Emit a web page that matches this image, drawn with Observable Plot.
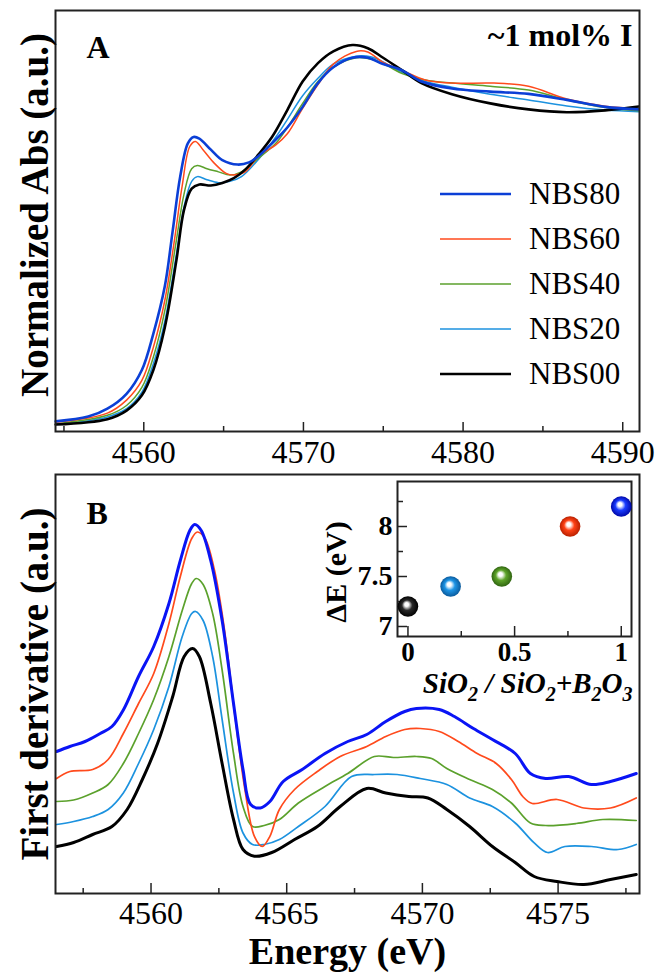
<!DOCTYPE html>
<html>
<head>
<meta charset="utf-8">
<script src="https://cdn.jsdelivr.net/npm/d3@7"></script>
<script src="https://cdn.jsdelivr.net/npm/@observablehq/plot@0.6"></script>
<style>
  html, body { margin: 0; padding: 0; background: #fff; }
  #fig { position: relative; width: 658px; height: 974px; background: #fff; font-family: "Liberation Serif", "Times New Roman", serif; overflow: hidden; }
  #fig svg { position: absolute; }
  #legend { position: absolute; left: 440px; top: 172px; }
  #legend .row { display: flex; align-items: center; height: 44.9px; }
  #legend .row span { margin-left: 18px; font-size: 31px; color: #000; }
</style>
</head>
<body>
<div id="fig"></div>
<script>
// ---------- DATA ----------
const seriesNames = ["NBS80", "NBS60", "NBS40", "NBS20", "NBS00"];

// Panel A: normalized absorbance (energy in eV, value in a.u.)
const absE_NBS80 = [4554.48, 4556.52, 4557.72, 4558.92, 4559.88, 4560.6, 4561.32, 4561.8, 4562.28, 4562.76, 4563.12, 4563.48, 4564.2, 4564.92, 4565.88, 4566.59, 4567.19, 4568.03, 4568.99, 4569.95, 4570.91, 4571.87, 4573.07, 4574.03, 4574.99, 4576.19, 4577.39, 4579.3, 4581.7, 4584.1, 4586.5, 4588.9, 4591.0];
const absV_NBS80 = [0.013, 0.028, 0.053, 0.10, 0.175, 0.29, 0.44, 0.61, 0.785, 0.89, 0.91, 0.905, 0.87, 0.837, 0.823, 0.83, 0.85, 0.89, 0.94, 1.005, 1.08, 1.13, 1.16, 1.16, 1.14, 1.12, 1.085, 1.063, 1.053, 1.046, 1.027, 1.005, 0.997];
const absE_NBS60 = [4554.48, 4557.72, 4558.92, 4559.88, 4560.6, 4561.32, 4561.92, 4562.4, 4562.88, 4563.24, 4563.72, 4564.44, 4565.16, 4565.64, 4566.35, 4567.19, 4568.27, 4568.99, 4569.95, 4570.91, 4571.87, 4573.31, 4574.03, 4574.99, 4576.19, 4577.63, 4579.3, 4581.94, 4584.1, 4586.5, 4588.9, 4591.0];
const absV_NBS60 = [0.01, 0.039, 0.08, 0.142, 0.247, 0.395, 0.585, 0.754, 0.88, 0.896, 0.869, 0.826, 0.795, 0.79, 0.80, 0.85, 0.885, 0.92, 1.0, 1.075, 1.14, 1.18, 1.178, 1.145, 1.12, 1.09, 1.08, 1.08, 1.07, 1.03, 1.007, 1.0];
const absE_NBS40 = [4554.48, 4557.72, 4558.92, 4559.88, 4560.6, 4561.32, 4562.04, 4562.52, 4563.0, 4563.36, 4563.96, 4564.68, 4565.4, 4566.12, 4567.19, 4568.27, 4568.99, 4569.95, 4570.91, 4571.87, 4573.31, 4574.27, 4575.23, 4576.19, 4577.63, 4579.3, 4581.7, 4584.1, 4586.5, 4588.9, 4591.0];
const absV_NBS40 = [0.005, 0.032, 0.063, 0.12, 0.216, 0.363, 0.584, 0.73, 0.81, 0.82, 0.81, 0.80, 0.79, 0.80, 0.843, 0.89, 0.94, 1.016, 1.085, 1.13, 1.16, 1.155, 1.135, 1.11, 1.09, 1.08, 1.07, 1.058, 1.027, 1.003, 0.993];
const absE_NBS20 = [4554.48, 4557.72, 4558.92, 4559.88, 4560.6, 4561.32, 4562.04, 4562.52, 4563.0, 4563.36, 4563.96, 4564.68, 4565.4, 4566.12, 4567.19, 4568.27, 4568.99, 4569.95, 4570.91, 4571.87, 4573.31, 4574.27, 4575.23, 4576.19, 4577.63, 4579.3, 4581.7, 4584.1, 4586.5, 4588.9, 4591.0];
const absV_NBS20 = [0.003, 0.027, 0.053, 0.105, 0.195, 0.33, 0.54, 0.69, 0.77, 0.785, 0.775, 0.766, 0.77, 0.785, 0.84, 0.91, 0.965, 1.04, 1.095, 1.14, 1.165, 1.162, 1.14, 1.113, 1.085, 1.067, 1.045, 1.027, 1.008, 0.995, 0.99];
const absE_NBS00 = [4554.48, 4557.72, 4558.92, 4559.88, 4560.6, 4561.32, 4562.04, 4562.52, 4563.0, 4563.48, 4564.2, 4564.92, 4565.64, 4566.35, 4567.19, 4568.03, 4568.99, 4569.95, 4570.91, 4571.87, 4573.07, 4574.03, 4574.99, 4576.19, 4577.39, 4579.3, 4581.7, 4584.1, 4586.5, 4588.9, 4591.0];
const absV_NBS00 = [0.003, 0.02, 0.047, 0.095, 0.175, 0.31, 0.52, 0.68, 0.747, 0.76, 0.757, 0.765, 0.78, 0.807, 0.855, 0.91, 0.995, 1.085, 1.143, 1.18, 1.2, 1.19, 1.16, 1.12, 1.08, 1.045, 1.016, 0.997, 0.988, 0.994, 1.006];

// Panel B: first derivative (offset, a.u.)
const derE_NBS80 = [4556.52, 4557.01, 4557.57, 4558.13, 4558.56, 4558.98, 4559.54, 4560.1, 4560.66, 4561.08, 4561.43, 4561.61, 4561.85, 4562.2, 4562.62, 4563.04, 4563.39, 4563.67, 4564.03, 4564.38, 4564.87, 4565.57, 4566.41, 4567.25, 4567.95, 4568.65, 4569.35, 4569.78, 4570.62, 4571.18, 4571.88, 4572.58, 4573.42, 4573.98, 4574.54, 4575.39, 4576.23, 4576.93, 4577.88];
const derV_NBS80 = [1.42, 1.47, 1.52, 1.60, 1.67, 1.836, 2.17, 2.47, 2.90, 3.33, 3.63, 3.69, 3.63, 3.33, 2.73, 1.90, 1.24, 0.89, 0.855, 0.92, 1.12, 1.24, 1.40, 1.52, 1.59, 1.72, 1.82, 1.85, 1.84, 1.77, 1.65, 1.54, 1.40, 1.20, 1.15, 1.17, 1.09, 1.12, 1.20];
const derE_NBS60 = [4556.52, 4557.01, 4557.85, 4558.42, 4558.98, 4559.54, 4560.1, 4560.66, 4561.08, 4561.5, 4561.71, 4561.99, 4562.34, 4562.69, 4563.11, 4563.46, 4563.81, 4564.1, 4564.38, 4564.73, 4565.29, 4566.13, 4566.97, 4567.95, 4568.65, 4569.35, 4569.92, 4570.62, 4571.32, 4572.02, 4572.72, 4573.28, 4573.7, 4574.05, 4574.96, 4575.95, 4576.93, 4577.88];
const derV_NBS60 = [1.15, 1.22, 1.24, 1.34, 1.60, 1.90, 2.20, 2.70, 3.17, 3.55, 3.615, 3.55, 3.23, 2.67, 1.74, 1.04, 0.572, 0.47, 0.572, 0.84, 1.04, 1.22, 1.37, 1.47, 1.57, 1.64, 1.65, 1.62, 1.52, 1.40, 1.30, 1.14, 0.97, 0.90, 0.94, 0.855, 0.855, 0.955];
const derE_NBS40 = [4556.52, 4557.15, 4557.85, 4558.42, 4558.98, 4559.54, 4560.1, 4560.66, 4561.15, 4561.5, 4561.67, 4561.92, 4562.27, 4562.62, 4563.04, 4563.39, 4563.74, 4564.17, 4564.73, 4565.43, 4566.41, 4567.25, 4568.23, 4568.93, 4569.78, 4570.34, 4570.9, 4571.74, 4572.58, 4573.28, 4573.98, 4574.54, 4575.67, 4576.65, 4577.88];
const derV_NBS40 = [0.92, 0.935, 1.005, 1.09, 1.30, 1.60, 1.94, 2.37, 2.83, 3.10, 3.15, 3.09, 2.80, 2.235, 1.40, 0.87, 0.67, 0.68, 0.74, 0.905, 1.07, 1.20, 1.37, 1.36, 1.37, 1.35, 1.25, 1.14, 1.04, 0.905, 0.705, 0.68, 0.70, 0.74, 0.73];
const derE_NBS20 = [4556.52, 4557.15, 4557.85, 4558.42, 4558.98, 4559.54, 4560.1, 4560.66, 4561.15, 4561.5, 4561.64, 4561.92, 4562.27, 4562.62, 4563.04, 4563.39, 4563.74, 4564.17, 4564.73, 4565.43, 4566.41, 4567.39, 4568.23, 4569.07, 4569.92, 4570.9, 4571.74, 4572.58, 4573.42, 4574.12, 4574.61, 4575.25, 4576.23, 4577.21, 4577.88];
const derV_NBS20 = [0.69, 0.72, 0.77, 0.84, 1.005, 1.30, 1.64, 2.07, 2.57, 2.80, 2.82, 2.73, 2.37, 1.74, 1.005, 0.605, 0.49, 0.49, 0.54, 0.67, 0.87, 1.17, 1.19, 1.19, 1.15, 1.09, 0.955, 0.87, 0.705, 0.506, 0.41, 0.47, 0.47, 0.44, 0.49];
const derE_NBS00 = [4556.52, 4557.15, 4557.85, 4558.56, 4559.12, 4559.68, 4560.24, 4560.8, 4561.22, 4561.53, 4561.78, 4562.2, 4562.62, 4563.04, 4563.39, 4563.81, 4564.45, 4565.29, 4566.13, 4566.97, 4567.95, 4568.65, 4569.5, 4570.2, 4570.9, 4571.74, 4572.58, 4573.42, 4574.12, 4574.96, 4575.95, 4576.93, 4577.88];
const derV_NBS00 = [0.47, 0.51, 0.59, 0.67, 0.84, 1.14, 1.50, 1.97, 2.37, 2.45, 2.37, 1.90, 1.30, 0.74, 0.44, 0.373, 0.41, 0.54, 0.67, 0.87, 1.05, 1.005, 0.97, 0.955, 0.84, 0.67, 0.47, 0.31, 0.17, 0.12, 0.09, 0.14, 0.19];

// Inset: ΔE vs SiO2 fraction
const insetRatio = [0, 0.2, 0.44, 0.76, 1.0];
const insetDeltaE = [7.2, 7.4, 7.5, 8.0, 8.2];
const insetSeries = ["NBS00", "NBS20", "NBS40", "NBS60", "NBS80"];

// Tick values
const ticksA = [4560, 4570, 4580, 4590];
const minorA = [4555, 4565, 4575, 4585];
const ticksB = [4560, 4565, 4570, 4575];
const minorB = [4557.5, 4562.5, 4567.5, 4572.5, 4577.5];
const insetTicksX = [0, 0.5, 1];
const insetMinorX = [0.25, 0.75];
const insetTicksY = [7, 7.5, 8];
const insetMinorY = [7.25, 7.75, 8.25];

// ---------- STYLES ----------
const FONT = "'Liberation Serif', 'Times New Roman', serif";
const colorA = {NBS80: "#0b3fd6", NBS60: "#ff4a1c", NBS40: "#5ba12c", NBS20: "#1c92df", NBS00: "#000000"};
const colorB = {NBS80: "#0a14f5", NBS60: "#ff4a1c", NBS40: "#5ba12c", NBS20: "#1c92df", NBS00: "#000000"};
const widthA = {NBS80: 2.6, NBS60: 1.5, NBS40: 1.5, NBS20: 1.5, NBS00: 2.6};
const widthB = {NBS80: 3, NBS60: 1.7, NBS40: 1.7, NBS20: 1.7, NBS00: 3};
const sphere = {NBS00: ["#2a2a2a", "#000000"], NBS20: ["#1e95e6", "#0a5a9c"], NBS40: ["#5fa52a", "#2f6410"], NBS60: ["#ff4216", "#b82000"], NBS80: ["#1a3cff", "#0008a8"]};
const drawOrder = ["NBS20", "NBS40", "NBS60", "NBS00", "NBS80"];

const absE = {NBS80: absE_NBS80, NBS60: absE_NBS60, NBS40: absE_NBS40, NBS20: absE_NBS20, NBS00: absE_NBS00};
const absV = {NBS80: absV_NBS80, NBS60: absV_NBS60, NBS40: absV_NBS40, NBS20: absV_NBS20, NBS00: absV_NBS00};
const derE = {NBS80: derE_NBS80, NBS60: derE_NBS60, NBS40: derE_NBS40, NBS20: derE_NBS20, NBS00: derE_NBS00};
const derV = {NBS80: derV_NBS80, NBS60: derV_NBS60, NBS40: derV_NBS40, NBS20: derV_NBS20, NBS00: derV_NBS00};

const rows = (E, V, s) => E.map((e, i) => ({E: e, v: V[i], s}));

const fig = document.getElementById("fig");
const frameStroke = "#222";

// ---------- PANEL A ----------
const hA = 470, mtA = 10, mbA = 39;
const innerA = hA - mtA - mbA;
const plotA = Plot.plot({
  width: 658, height: hA,
  marginTop: mtA, marginBottom: mbA, marginLeft: 55, marginRight: 19,
  style: {fontFamily: FONT, background: "transparent", color: "#000"},
  x: {domain: [4554.47, 4591.05]},
  y: {domain: [-0.019, 1.309], axis: null},
  marks: [
    ...drawOrder.map(s => Plot.line(rows(absE[s], absV[s], s), {x: "E", y: "v", stroke: colorA[s], strokeWidth: widthA[s], curve: "catmull-rom"})),
    Plot.frame({stroke: frameStroke, strokeWidth: 2}),
    Plot.ruleX(minorA, {stroke: frameStroke, strokeWidth: 1.5, insetTop: innerA - 5}),
    Plot.ruleX(ticksA, {stroke: frameStroke, strokeWidth: 1.5, insetTop: innerA - 9}),
    Plot.axisX({ticks: ticksA, tickSize: 0, tickPadding: 9, fontSize: 32, tickFormat: d => String(d), label: null}),
    Plot.text(["Normalized Abs (a.u.)"], {frameAnchor: "left", rotate: -90, dx: -20, dy: -6, textAnchor: "middle", lineAnchor: "middle", fontSize: 39, fontWeight: "bold"}),
    Plot.text(["A"], {frameAnchor: "top-left", dx: 31, dy: 47, textAnchor: "start", lineAnchor: "bottom", fontSize: 32, fontWeight: "bold"}),
    Plot.text(["~1 mol% I"], {frameAnchor: "top-right", dx: -7, dy: 35, textAnchor: "end", lineAnchor: "bottom", fontSize: 32, fontWeight: "bold"})
  ]
});
plotA.style.left = "0px"; plotA.style.top = "0px";
fig.appendChild(plotA);

// Legend (HTML)
const legend = document.createElement("div");
legend.id = "legend";
seriesNames.forEach(s => {
  const row = document.createElement("div");
  row.className = "row";
  row.innerHTML = `<svg width="71" height="6" style="position:static"><line x1="0" x2="71" y1="3" y2="3" stroke="${colorA[s]}" stroke-width="${widthA[s]}"/></svg><span>${s}</span>`;
  legend.appendChild(row);
});
fig.appendChild(legend);

// ---------- PANEL B ----------
const hB = 504, mtB = 4, mbB = 81;
const innerB = hB - mtB - mbB;
const plotB = Plot.plot({
  width: 658, height: hB,
  marginTop: mtB, marginBottom: mbB, marginLeft: 55, marginRight: 19,
  style: {fontFamily: FONT, background: "transparent", color: "#000"},
  x: {domain: [4556.48, 4578.0]},
  y: {domain: [0, 4.19], axis: null},
  marks: [
    ...drawOrder.map(s => Plot.line(rows(derE[s], derV[s], s), {x: "E", y: "v", stroke: colorB[s], strokeWidth: widthB[s], curve: "catmull-rom"})),
    Plot.frame({stroke: frameStroke, strokeWidth: 2}),
    Plot.ruleX(minorB, {stroke: frameStroke, strokeWidth: 1.5, insetTop: innerB - 5}),
    Plot.ruleX(ticksB, {stroke: frameStroke, strokeWidth: 1.5, insetTop: innerB - 10}),
    Plot.axisX({ticks: ticksB, tickSize: 0, tickPadding: 8, fontSize: 32, tickFormat: d => String(d), label: null}),
    Plot.text(["Energy (eV)"], {frameAnchor: "bottom", dy: 58, textAnchor: "middle", lineAnchor: "middle", fontSize: 38, fontWeight: "bold"}),
    Plot.text(["First derivative (a.u.)"], {frameAnchor: "left", rotate: -90, dx: -20, textAnchor: "middle", lineAnchor: "middle", fontSize: 39, fontWeight: "bold"}),
    Plot.text(["B"], {frameAnchor: "top-left", dx: 31, dy: 49, textAnchor: "start", lineAnchor: "bottom", fontSize: 32, fontWeight: "bold"})
  ]
});
plotB.style.left = "0px"; plotB.style.top = "470px";
fig.appendChild(plotB);

// ---------- INSET ----------
const wC = 338, hC = 260, mtC = 11, mbC = 94, mlC = 77, mrC = 27;
const innerCH = hC - mtC - mbC, innerCW = wC - mlC - mrC;
const insetRows = insetRatio.map((r, i) => ({r, dE: insetDeltaE[i], s: insetSeries[i]}));
const xLabelText = "SiO2 / SiO2+B2O3";
const plotC = Plot.plot({
  width: wC, height: hC,
  marginTop: mtC, marginBottom: mbC, marginLeft: mlC, marginRight: mrC,
  style: {fontFamily: FONT, background: "transparent", color: "#000", overflow: "visible"},
  x: {domain: [-0.049, 1.048]},
  y: {domain: [6.9, 8.45]},
  color: {type: "identity"},
  marks: [
    Plot.frame({stroke: frameStroke, strokeWidth: 2, fill: "white"}),
    Plot.ruleX(insetMinorX, {stroke: frameStroke, strokeWidth: 1.5, insetTop: innerCH - 5}),
    Plot.ruleX(insetTicksX, {stroke: frameStroke, strokeWidth: 1.5, insetTop: innerCH - 10}),
    Plot.ruleY(insetMinorY, {stroke: frameStroke, strokeWidth: 1.5, insetRight: innerCW - 6}),
    Plot.ruleY(insetTicksY, {stroke: frameStroke, strokeWidth: 1.5, insetRight: innerCW - 10}),
    Plot.axisX({ticks: insetTicksX, tickSize: 0, tickPadding: 5, fontSize: 27, fontWeight: "bold", tickFormat: d => String(d), label: null}),
    Plot.axisY({ticks: insetTicksY, tickSize: 0, tickPadding: 5, fontSize: 28, fontWeight: "bold", tickFormat: d => String(d), label: null}),
    Plot.dot(insetRows, {x: "r", y: "dE", r: 10.3, fill: d => `url(#sph-${d.s})`, stroke: "none"}),
    Plot.text(["ΔE (eV)"], {frameAnchor: "left", rotate: -90, dx: -61, dy: 13, textAnchor: "middle", lineAnchor: "middle", fontSize: 30, fontWeight: "bold"}),
    Plot.text([xLabelText], {frameAnchor: "bottom-right", dx: 1, dy: 56, textAnchor: "end", lineAnchor: "bottom", fontSize: 29, fontWeight: "bold", fontStyle: "italic"})
  ]
});
plotC.style.left = "320px"; plotC.style.top = "470px";
// gradient defs for glossy spheres
const defs = d3.select(plotC).insert("defs", ":first-child");
insetSeries.forEach(s => {
  const g = defs.append("radialGradient").attr("id", `sph-${s}`)
    .attr("cx", "0.5").attr("cy", "0.5").attr("r", "0.5").attr("fx", "0.42").attr("fy", "0.38");
  g.append("stop").attr("offset", "0").attr("stop-color", "#ffffff");
  g.append("stop").attr("offset", "0.18").attr("stop-color", "#ffffff").attr("stop-opacity", 0.9);
  g.append("stop").attr("offset", "0.5").attr("stop-color", sphere[s][0]);
  g.append("stop").attr("offset", "1").attr("stop-color", sphere[s][1]);
});
// subscripts in the inset x label
d3.select(plotC).selectAll("text").filter(function () { return this.textContent === xLabelText; })
  .each(function () {
    const t = d3.select(this);
    t.text(null);
    const parts = [["SiO", 0], ["2", 1], [" / SiO", 0], ["2", 1], ["+B", 0], ["2", 1], ["O", 0], ["3", 1]];
    let prevSub = false;
    parts.forEach(([str, sub]) => {
      const ts = t.append("tspan").text(str);
      if (sub) { ts.attr("font-size", 20).attr("dy", prevSub ? 0 : 8); }
      else if (prevSub) { ts.attr("dy", -8); }
      prevSub = !!sub;
    });
  });
fig.appendChild(plotC);
</script>
</body>
</html>
